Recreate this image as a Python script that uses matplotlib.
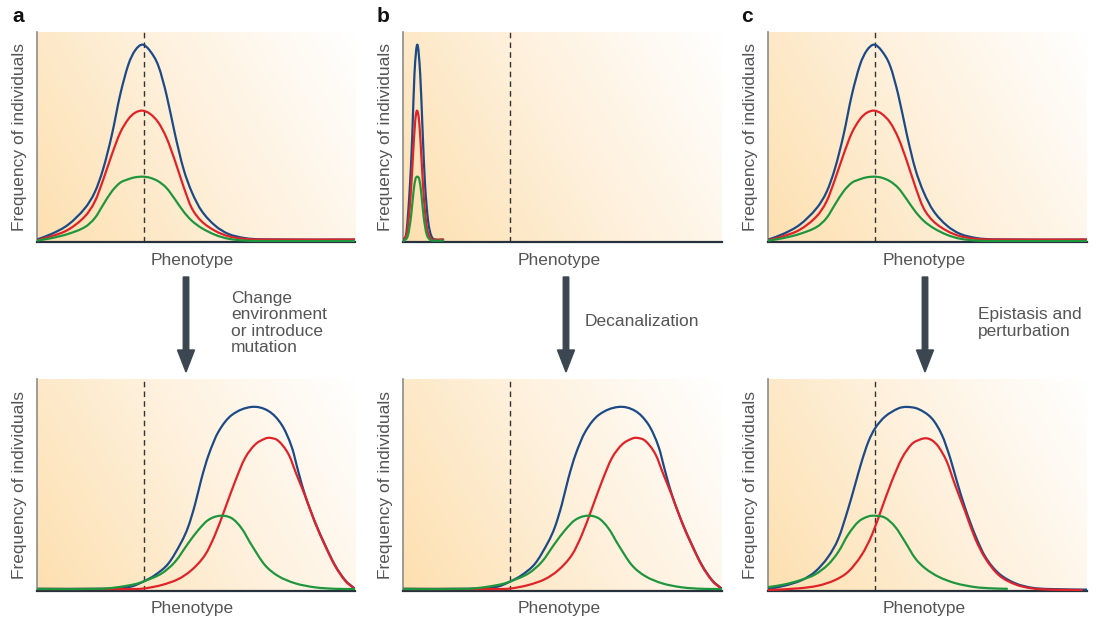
import numpy as np
import matplotlib
matplotlib.use("Agg")
import matplotlib.pyplot as plt
from matplotlib.colors import LinearSegmentedColormap
from matplotlib.patches import FancyArrow, PathPatch
from matplotlib.path import Path

plt.rcParams['font.family'] = ['Liberation Sans', 'DejaVu Sans']

# ---- data (x: phenotype 0-100, y: frequency 0-100) ----
# top row, panels a and c (canalized population)
top_x = [0, 4.7, 9.9, 15.2, 18.3, 20.9, 23.6, 26.2, 28.8, 30.9, 33.2, 35.6,
         38.2, 40.8, 43.5, 46.1, 48.7, 51.8, 56.0, 60.2, 65.4, 70.7, 100]
top_blue = [1.3, 4, 8.4, 16.3, 24, 35, 51, 70, 84.5, 91.2, 94, 91,
            84, 70, 51, 35, 24, 15, 8, 4, 2, 1.4, 1.3]
top_red = [1, 2.9, 6, 12.4, 19.5, 29.8, 41.7, 52, 58.6, 61.6, 62.6, 61.1,
           57, 49.6, 38.5, 26.6, 16.3, 10, 5.5, 2.9, 1.6, 1.3, 1.3]
top_green = [0.8, 2, 4, 7.3, 11.6, 17.9, 24.2, 28.3, 30.0, 30.9, 31.2, 30.7,
             29.0, 25.8, 20.3, 14.7, 10.3, 6.8, 3.6, 1.7, 0.8, 0.6, 0.6]

# top row, panel b (narrow peaks at the far left)
b_top_blue_x = [0, 1.0, 2.0, 2.8, 3.5, 4.4, 5.3, 6.0, 6.8, 7.8, 8.8, 10, 12.5]
b_top_blue = [1, 5, 25, 50, 80, 94, 80, 55, 28, 10, 3, 1.3, 1.3]
b_top_red_x = [0, 1.2, 2.2, 3.0, 3.7, 4.3, 5.0, 5.7, 6.5, 7.4, 8.5, 10, 12.5]
b_top_red = [0.8, 5, 20, 40, 57, 62.6, 57, 40, 20, 7, 2, 1.3, 1.3]
b_top_green_x = [0, 1.4, 2.4, 3.2, 3.8, 4.4, 5.0, 5.6, 6.4, 7.3, 8.4, 10, 12.5]
b_top_green = [0.6, 3, 12, 24, 30, 31.2, 30, 24, 12, 4, 1.2, 0.8, 0.8]

# bottom row, panels a and b (shifted populations)
bot_blue_x = [0, 20.4, 25.7, 29.8, 33.5, 37.2, 41.4, 45.5, 47.6, 49.7, 51.8, 54.0,
              57.1, 61.3, 67.5, 72.8, 77.0, 80.1, 82.2, 84.3, 87.4, 90.6, 93.7, 96.9, 99.8]
bot_blue = [0.9, 0.9, 1.3, 2.0, 4.3, 7.4, 12.9, 23.1, 30.2, 40.5, 53.1, 64.1,
            75.1, 83.0, 86.8, 84.9, 78.3, 68.0, 56.2, 45.2, 32.6, 21.6, 12.1, 5.0, 1.1]
bot_red_x = [0, 25.7, 30.9, 34.0, 39.3, 44.5, 48.7, 52.9, 56.0, 59.2, 62.3, 65.4,
             68.6, 71.7, 73.3, 75.9, 79.1, 81.7, 84.3, 87.4, 90.6, 93.7, 96.9, 99.8]
bot_red = [0.8, 0.8, 0.8, 1.1, 2.7, 5.5, 9.8, 16.9, 26.3, 38.9, 51.5, 62.5,
           69.0, 71.8, 72.2, 70.8, 64.5, 54.6, 44.9, 32.3, 21.3, 11.8, 4.7, 0.9]
bot_green_x = [0, 20.4, 25.7, 30.9, 34.0, 39.3, 43.5, 47.6, 50.8, 53.9, 57.6, 61.3,
               64.4, 67.5, 71.7, 75.9, 81.2, 87.4, 93.7, 99.8]
bot_green = [0.8, 0.9, 1.7, 3.1, 4.6, 8.2, 13.7, 22.4, 28.7, 33.4, 35.4, 34.2,
             29.4, 21.6, 12.1, 6.9, 3.5, 1.6, 0.9, 0.8]

# bottom row, panel c (epistasis and perturbation)
c_bot_blue_x = [0, 5.2, 10.5, 14.7, 18.8, 22.0, 25.1, 27.2, 29.3, 31.4, 33.5, 36.6, 40.8,
                43.5, 47.1, 51.3, 54.5, 57.1, 59.2, 61.8, 64.9, 68.1, 72.3, 77.5, 82.7, 88.0, 100]
c_bot_blue = [0.8, 2.4, 5.0, 9.0, 16.0, 24.7, 38.9, 49.9, 61.0, 70.4, 76.7, 82.2, 86.1,
              86.8, 85.8, 81.4, 73.5, 62.5, 51.5, 38.9, 26.3, 16.0, 8.2, 3.5, 1.4, 0.8, 0.5]
c_bot_red_x = [0, 9.4, 15.7, 20.9, 25.1, 29.3, 32.5, 35.6, 38.7, 41.9, 45.0, 47.6,
               49.5, 51.4, 53.4, 56.0, 58.6, 61.8, 64.9, 68.1, 72.3, 77.5, 82.7, 89.0, 98.4]
c_bot_red = [0.3, 1.1, 2.4, 5.0, 9.0, 16.9, 26.3, 38.9, 51.5, 62.5, 69.2, 71.4,
             72.0, 71.0, 68.0, 61.0, 50.0, 37.3, 24.7, 15.3, 7.4, 3.0, 1.1, 0.5, 0.3]
c_bot_green_x = [0, 5.2, 10.5, 14.7, 18.8, 22.0, 25.1, 28.3, 31.4, 33.5, 36.6, 39.8,
                 42.9, 46.1, 49.2, 53.4, 58.6, 64.9, 70.2, 74.9]
c_bot_green = [1.7, 3.0, 5.2, 7.7, 12.4, 18.4, 26.6, 32.6, 35.1, 35.4, 34.5, 30.2,
               23.1, 15.3, 10.6, 6.6, 3.6, 1.7, 1.1, 0.9]

optimum = 33.6  # dashed line position
panel_letters = ['a', 'b', 'c']
arrow_texts = ["Change\nenvironment\nor introduce\nmutation", "Decanalization",
               "Epistasis and\nperturbation"]

BLUE = '#1b4a87'
RED = '#e02328'
GREEN = '#1f963e'
TEXT = '#555555'

W, H = 1099, 618
fig = plt.figure(figsize=(W / 100, H / 100), dpi=100)
fig.patch.set_facecolor('white')

bg_cmap = LinearSegmentedColormap.from_list('bg', ['#fde0b0', '#fef0db', '#ffffff'])
gx, gy = np.meshgrid(np.linspace(0, 1, 200), np.linspace(0, 1, 200))
grad = 0.72 * gx + 0.28 * gy


def make_axes(left_px, top_px, bottom_px, right_px):
    ax = fig.add_axes([left_px / W, 1 - bottom_px / H,
                       (right_px - left_px) / W, (bottom_px - top_px) / H])
    ax.imshow(grad, extent=[0, 100, 0, 100], origin='lower', aspect='auto',
              cmap=bg_cmap, zorder=0, interpolation='bilinear')
    ax.set_xlim(0, 100)
    ax.set_ylim(0, 100)
    ax.set_xticks([])
    ax.set_yticks([])
    for s in ['top', 'right']:
        ax.spines[s].set_visible(False)
    ax.spines['left'].set_color('#8c8c8c')
    ax.spines['left'].set_linewidth(1.2)
    ax.spines['bottom'].set_color('#27313d')
    ax.spines['bottom'].set_linewidth(1.6)
    ax.axvline(optimum, color='#333333', lw=1.0, dashes=(4, 3), zorder=1)
    ax.text(-0.055, 0.5, 'Frequency of individuals', rotation=90, transform=ax.transAxes,
            ha='center', va='center', fontsize=12.5, color=TEXT)
    ax.text(0.49, -0.085, 'Phenotype', transform=ax.transAxes,
            ha='center', va='center', fontsize=12.5, color=TEXT)
    return ax


def smooth_line(ax, xs, ys, color, z):
    # draw the read points as a smooth bezier path through every point
    x = np.asarray(xs, float)
    y = np.asarray(ys, float)
    h = np.diff(x)
    m = np.empty_like(x)
    m[0] = (y[1] - y[0]) / h[0]
    m[-1] = (y[-1] - y[-2]) / h[-1]
    m[1:-1] = (y[2:] - y[:-2]) / (x[2:] - x[:-2])
    verts = [(x[0], y[0])]
    codes = [Path.MOVETO]
    for k in range(len(h)):
        verts += [(x[k] + h[k] / 3, y[k] + m[k] * h[k] / 3),
                  (x[k + 1] - h[k] / 3, y[k + 1] - m[k + 1] * h[k] / 3),
                  (x[k + 1], y[k + 1])]
        codes += [Path.CURVE4] * 3
    ax.add_patch(PathPatch(Path(verts, codes), fill=False, edgecolor=color, lw=1.6,
                           zorder=z, capstyle='round', joinstyle='round'))


def draw(ax, bx, by, rx, ry, gx_, gy_):
    smooth_line(ax, bx, by, BLUE, 3)
    smooth_line(ax, rx, ry, RED, 4)
    smooth_line(ax, gx_, gy_, GREEN, 5)


cols = [(36.7, 355), (403.3, 722), (768.3, 1087)]

# top row
ax = make_axes(cols[0][0], 32, 242.3, cols[0][1])
draw(ax, top_x, top_blue, top_x, top_red, top_x, top_green)
ax = make_axes(cols[1][0], 32, 242.3, cols[1][1])
draw(ax, b_top_blue_x, b_top_blue, b_top_red_x, b_top_red, b_top_green_x, b_top_green)
ax = make_axes(cols[2][0], 32, 242.3, cols[2][1])
draw(ax, top_x, top_blue, top_x, top_red, top_x, top_green)

# bottom row
ax = make_axes(cols[0][0], 379, 590.7, cols[0][1])
draw(ax, bot_blue_x, bot_blue, bot_red_x, bot_red, bot_green_x, bot_green)
ax = make_axes(cols[1][0], 379, 590.7, cols[1][1])
draw(ax, bot_blue_x, bot_blue, bot_red_x, bot_red, bot_green_x, bot_green)
ax = make_axes(cols[2][0], 379, 590.7, cols[2][1])
draw(ax, c_bot_blue_x, c_bot_blue, c_bot_red_x, c_bot_red, c_bot_green_x, c_bot_green)

# panel letters
for letter, lx in zip(panel_letters, [12, 377, 741]):
    fig.text(lx / W, 1 - 17 / H, letter, fontsize=15, fontweight='bold',
             ha='left', va='center', color='#111111')

# arrows and captions
arrow_x = [186, 566, 925]
text_pos = [(231, 323), (585, 321), (978, 323)]
for axp, (tx, ty), txt in zip(arrow_x, text_pos, arrow_texts):
    arr = FancyArrow(axp / W, 1 - 277 / H, 0, -(95 / H), width=5.5 / W,
                     head_width=17 / W, head_length=22 / H,
                     length_includes_head=True, color='#3b4650',
                     transform=fig.transFigure)
    fig.add_artist(arr)
    fig.text(tx / W, 1 - ty / H, txt, fontsize=12.5, color=TEXT, ha='left',
             va='center', linespacing=1.12)

fig.savefig('out.png', dpi=100)
